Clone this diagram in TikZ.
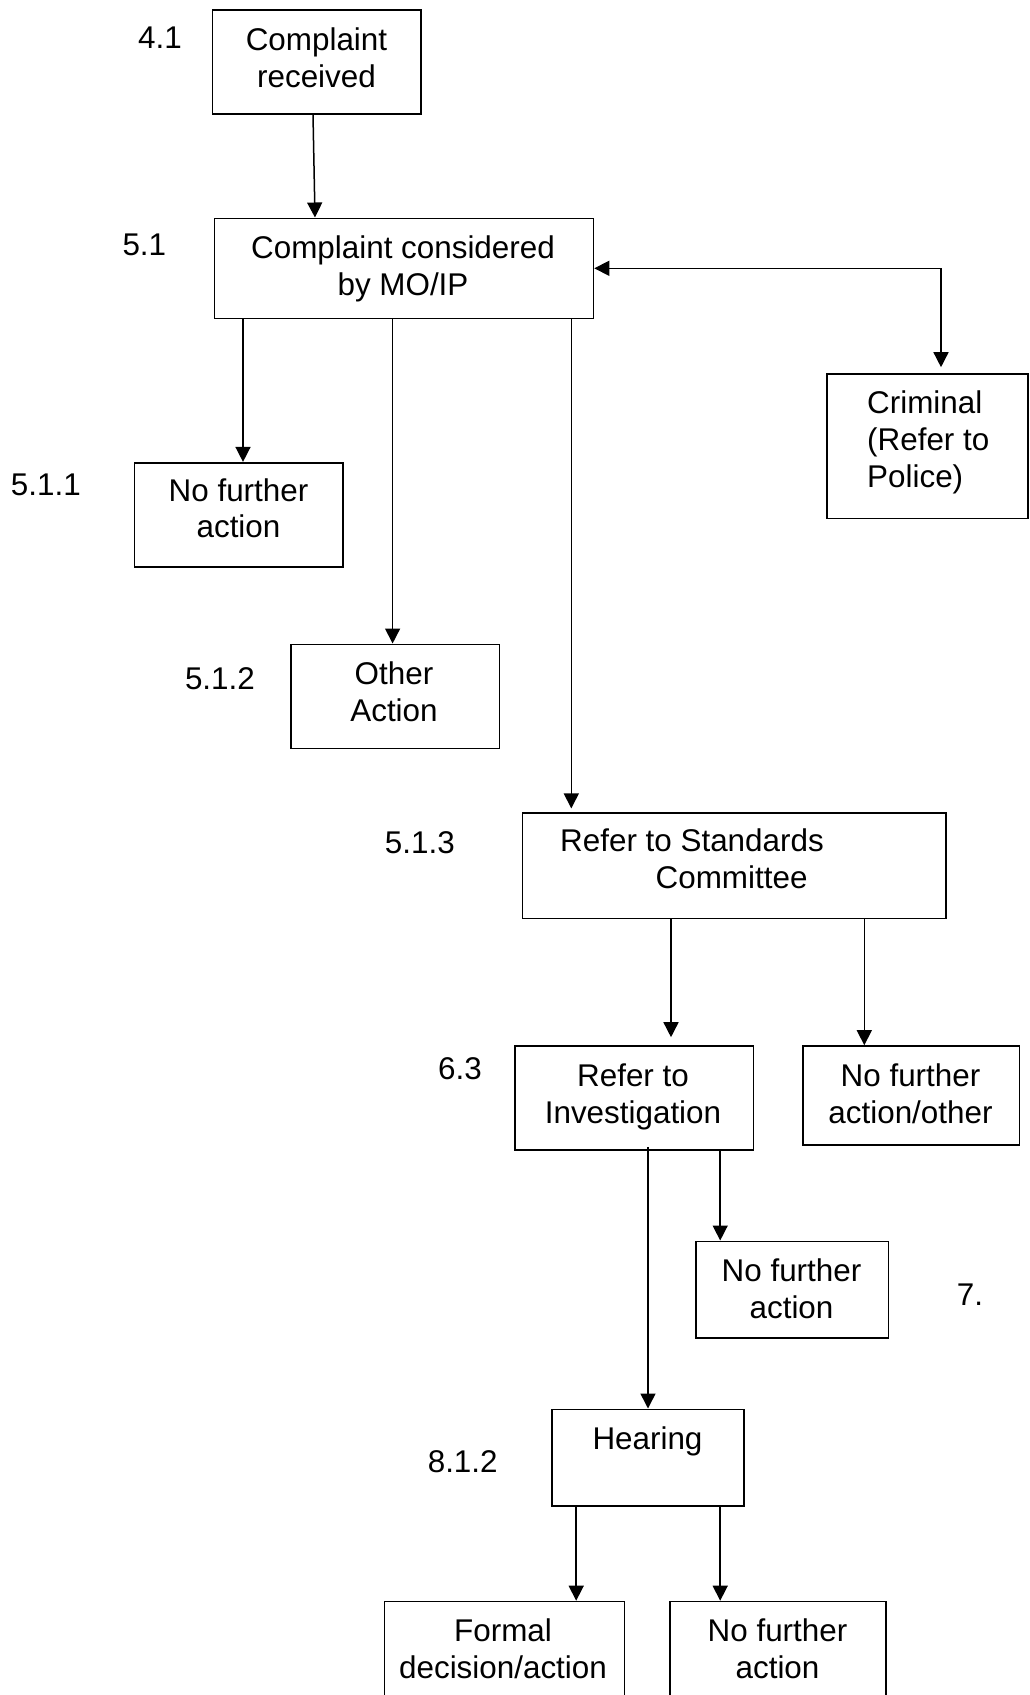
\documentclass[tikz,border=0pt]{standalone}
\usepackage{fontspec}
\setmainfont{Liberation Sans}
\usetikzlibrary{arrows.meta,fit}
\tikzset{
  box/.style={draw, line width=1.6pt, inner sep=0pt},
  txt/.style={inner sep=0pt, font=\fontsize{31.4}{36.7}\selectfont, align=center, anchor=base},
  num/.style={inner sep=0pt, font=\fontsize{31.4}{36.7}\selectfont, anchor=base west},
  arr/.style={line width=1.5pt, -{Triangle[length=15pt,width=15pt]}},
  arrboth/.style={line width=1.5pt, {Triangle[length=15pt,width=15pt]}-{Triangle[length=15pt,width=15pt]}},
}
\begin{document}
\begin{tikzpicture}[x=1pt,y=-1pt]
\useasboundingbox (0,0) rectangle (1029,1695);
\clip (0,0) rectangle (1029,1695);
\fill[white] (0,0) rectangle (1029,1695);

% boxes
\node[box, fit={(212.3,10) (421.2,114)}] (A) {};
\node[box, fit={(214.5,218.3) (593.5,318.3)}] (B) {};
\node[box, fit={(826.7,374) (1028,518.3)}] (Crim) {};
\node[box, fit={(134.3,462.7) (343,566.7)}] (NFA1) {};
\node[box, fit={(291,644.3) (499.4,748.3)}] (Other) {};
\node[box, fit={(522.6,812.7) (945.9,918.3)}] (Std) {};
\node[box, fit={(515,1046) (753.4,1150)}] (Inv) {};
\node[box, fit={(803,1046) (1019.4,1145)}] (NFAo) {};
\node[box, fit={(695.8,1241.3) (888.3,1337.7)}] (NFA2) {};
\node[box, fit={(551.8,1409.3) (744.2,1505.7)}] (Hear) {};
\node[box, fit={(384.3,1601.5) (624.3,1730)}] (Formal) {};
\node[box, fit={(669.7,1601.5) (885.8,1730)}] (NFA3) {};

% box texts (anchor base = baseline of last line)
\node[txt] (tA) at (316.5,87.3) {Complaint\\received};
\node[txt] (tB) at (403,295) {Complaint considered\\by MO/IP};
\node[txt, anchor=base west, align=left] (tCrim) at (867,487) {Criminal\\(Refer to\\Police)};
\node[txt] (tNFA1) at (238.5,537.7) {No further\\action};
\node[txt] (tOther) at (394,721) {Other\\Action};
\node[txt, anchor=base west, align=left] (tStd) at (560,888.5) {Refer to Standards\\\hspace*{95.5pt}Committee};
\node[txt] (tInv) at (633,1123.3) {Refer to\\Investigation};
\node[txt] (tNFAo) at (910.5,1123.3) {No further\\action/other};
\node[txt] (tNFA2) at (791.5,1318) {No further\\action};
\node[txt] (tHear) at (647.5,1449.3) {Hearing};
\node[txt] (tFormal) at (503,1678.3) {Formal\\decision/action};
\node[txt] (tNFA3) at (777.5,1678.3) {No further\\action};

% section numbers
\node[num] (n41) at (138,48.3) {4.1};
\node[num] (n51) at (122.3,255) {5.1};
\node[num] (n511) at (10.7,495.7) {5.1.1};
\node[num] (n512) at (184.8,689.3) {5.1.2};
\node[num] (n513) at (384.7,853.3) {5.1.3};
\node[num] (n63) at (438,1079.3) {6.3};
\node[num] (n7) at (956.6,1305) {7.};
\node[num] (n812) at (427.6,1472.7) {8.1.2};

% connectors
\draw[arr] (A.south -| 313,0) -- (B.north -| 315,0);
\draw[arr] (B.south -| 243,0) -- (NFA1.north -| 243,0);
\draw[arr] (B.south -| 392.6,0) -- (Other.north -| 392.6,0);
\draw[arr, shorten >=3.5pt] (B.south -| 571.3,0) -- (Std.north -| 571.3,0);
\coordinate (corner) at (941,268.3);
\draw[arrboth, shorten >=6pt] (B.east |- corner) -- (corner) -- (Crim.north -| corner);
\draw[arr, shorten >=8pt] (Std.south -| 671,0) -- (Inv.north -| 671,0);
\draw[arr] (Std.south -| 864.3,0) -- (NFAo.north -| 864.3,0);
\draw[arr, shorten <=-4pt] (Inv.south -| 648,0) -- (Hear.north -| 648,0);
\draw[arr] (Inv.south -| 720.2,0) -- (NFA2.north -| 720.2,0);
\draw[arr] (Hear.south -| 576.2,0) -- (Formal.north -| 576.2,0);
\draw[arr] (Hear.south -| 720.2,0) -- (NFA3.north -| 720.2,0);
\end{tikzpicture}
\end{document}
